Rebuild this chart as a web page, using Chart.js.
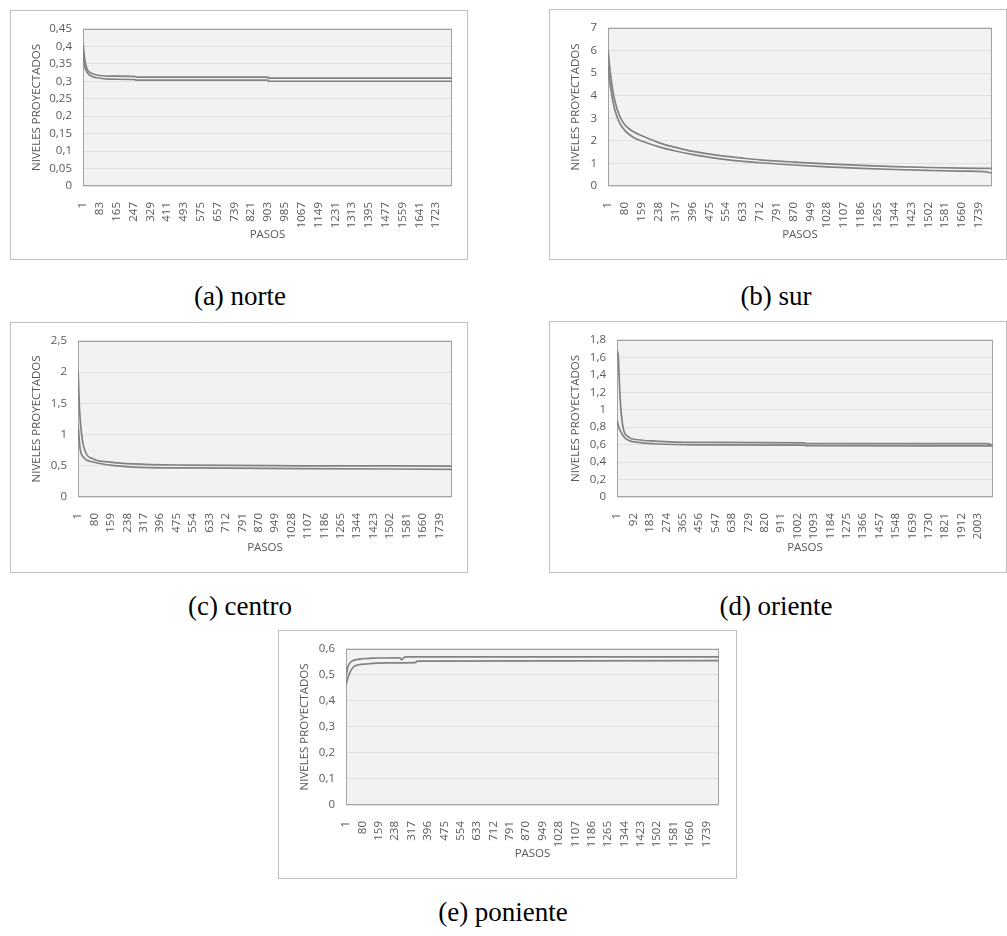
<!DOCTYPE html>
<html lang="es">
<head>
<meta charset="utf-8">
<title>Niveles proyectados por zona</title>
<script src="https://cdn.jsdelivr.net/npm/chart.js@4.4.1/dist/chart.umd.min.js"></script>
<style>
  html, body { margin: 0; padding: 0; background: #ffffff; }
  body { width: 1007px; height: 936px; position: relative; overflow: hidden; }
  .box { position: absolute; border: 1px solid #c0c0c0; background: #ffffff; }
  .box canvas { display: block; }
  .cap { position: absolute; font-family: "Liberation Serif", "DejaVu Serif", serif;
         font-size: 27px; line-height: 30px; color: #000; text-align: center; white-space: nowrap; }
</style>
</head>
<body>

<div class="box" style="left:10px; top:10px;"><canvas id="norte" width="456" height="248"></canvas></div>
<div class="box" style="left:549px; top:9px;"><canvas id="sur" width="456" height="249"></canvas></div>
<div class="cap" style="left:90px; top:281px; width:300px;">(a) norte</div>
<div class="cap" style="left:626px; top:281px; width:300px;">(b) sur</div>

<div class="box" style="left:10px; top:322px;"><canvas id="centro" width="456" height="249"></canvas></div>
<div class="box" style="left:549px; top:321px;"><canvas id="oriente" width="456" height="250"></canvas></div>
<div class="cap" style="left:90px; top:591px; width:300px;">(c) centro</div>
<div class="cap" style="left:626px; top:591px; width:300px;">(d) oriente</div>

<div class="box" style="left:278px; top:630px;"><canvas id="poniente" width="457" height="247"></canvas></div>
<div class="cap" style="left:353px; top:897px; width:300px;">(e) poniente</div>

<script>
// ---- (a) norte ----
const norteCount = 1800;
const norteXTicks = [1, 83, 165, 247, 329, 411, 493, 575, 657, 739, 821, 903, 985, 1067, 1149, 1231, 1313, 1395, 1477, 1559, 1641, 1723];
const norteYTicks = ['0', '0,05', '0,1', '0,15', '0,2', '0,25', '0,3', '0,35', '0,4', '0,45'];
const norteUpperSteps = [1, 10, 20, 35, 70, 130, 250, 262, 900, 906, 1800];
const norteUpper      = [0.405, 0.36, 0.335, 0.325, 0.318, 0.315, 0.314, 0.312, 0.312, 0.309, 0.309];
const norteLowerSteps = [1, 8, 20, 40, 70, 130, 250, 262, 900, 906, 1800];
const norteLower      = [0.38, 0.345, 0.326, 0.315, 0.310, 0.306, 0.305, 0.303, 0.303, 0.300, 0.300];

// ---- (b) sur ----
const surCount = 1800;
const surXTicks = [1, 80, 159, 238, 317, 396, 475, 554, 633, 712, 791, 870, 949, 1028, 1107, 1186, 1265, 1344, 1423, 1502, 1581, 1660, 1739];
const surYTicks = ['0', '1', '2', '3', '4', '5', '6', '7'];
const surUpperSteps = [1, 8, 17, 33, 55, 80, 120, 165, 244, 322, 400, 478, 556, 634, 712, 870, 1028, 1186, 1344, 1502, 1660, 1800];
const surUpper      = [6.0, 5.3, 4.6, 3.75, 3.1, 2.7, 2.4, 2.2, 1.9, 1.7, 1.53, 1.41, 1.31, 1.23, 1.16, 1.06, 0.98, 0.91, 0.86, 0.82, 0.79, 0.78];
const surLowerSteps = [1, 8, 17, 33, 55, 80, 120, 165, 244, 322, 400, 478, 556, 634, 712, 870, 1028, 1186, 1344, 1502, 1660, 1760, 1800];
const surLower      = [5.3, 4.7, 4.1, 3.35, 2.8, 2.45, 2.15, 1.97, 1.72, 1.54, 1.39, 1.27, 1.17, 1.09, 1.03, 0.93, 0.85, 0.78, 0.73, 0.69, 0.66, 0.64, 0.57];

// ---- (c) centro ----
const centroCount = 1800;
const centroXTicks = surXTicks;
const centroYTicks = ['0', '0,5', '1', '1,5', '2', '2,5'];
const centroUpperSteps = [1, 8, 18, 34, 74, 154, 265, 530, 1075, 1800];
const centroUpper      = [2.02, 1.4, 1.0, 0.74, 0.61, 0.56, 0.53, 0.51, 0.50, 0.496];
const centroLowerSteps = [1, 10, 26, 74, 154, 265, 530, 1075, 1800];
const centroLower      = [1.16, 0.79, 0.64, 0.56, 0.51, 0.48, 0.465, 0.455, 0.444];

// ---- (d) oriente ----
const orienteCount = 2086;
const orienteXTicks = [1, 92, 183, 274, 365, 456, 547, 638, 729, 820, 911, 1002, 1093, 1184, 1275, 1366, 1457, 1548, 1639, 1730, 1821, 1912, 2003];
const orienteYTicks = ['0', '0,2', '0,4', '0,6', '0,8', '1', '1,2', '1,4', '1,6', '1,8'];
const orienteUpperSteps = [1, 8, 15, 22, 35, 63, 118, 211, 414, 1040, 1050, 2050, 2086];
const orienteUpper      = [1.68, 1.6, 1.25, 1.01, 0.79, 0.69, 0.656, 0.64, 0.625, 0.62, 0.612, 0.612, 0.595];
const orienteLowerSteps = [1, 10, 22, 35, 63, 118, 211, 414, 1040, 1050, 2086];
const orienteLower      = [0.88, 0.8, 0.75, 0.7, 0.65, 0.625, 0.61, 0.597, 0.594, 0.587, 0.585];

// ---- (e) poniente ----
const ponienteCount = 1800;
const ponienteXTicks = surXTicks;
const ponienteYTicks = ['0', '0,1', '0,2', '0,3', '0,4', '0,5', '0,6'];
const ponienteUpperSteps = [1, 11, 27, 68, 148, 261, 269, 280, 293, 1800];
const ponienteUpper      = [0.50, 0.534, 0.552, 0.561, 0.565, 0.566, 0.558, 0.567, 0.569, 0.569];
const ponienteLowerSteps = [1, 8, 19, 43, 100, 196, 335, 345, 1800];
const ponienteLower      = [0.462, 0.485, 0.509, 0.534, 0.542, 0.546, 0.547, 0.553, 0.555];

// ---- shared drawing ----
const TEXT_COLOR = '#595959';
const LINE_COLOR = '#828282';
const AXIS_FONT = { family: "'Open Sans', 'Liberation Sans', sans-serif", size: 11.5 };

const toNumber = s => parseFloat(s.replace(',', '.'));
const points = (steps, values) => steps.map((s, i) => ({ x: s, y: values[i] }));

// grey plot area with a thin frame, painted under the series
const plotFrame = {
  id: 'plotFrame',
  beforeDraw(chart) {
    const a = chart.chartArea, ctx = chart.ctx;
    ctx.save();
    ctx.fillStyle = '#f2f2f2';
    ctx.fillRect(a.left, a.top, a.right - a.left, a.bottom - a.top);
    ctx.restore();
  },
  beforeDatasetsDraw(chart) {
    const a = chart.chartArea, ctx = chart.ctx;
    ctx.save();
    ctx.strokeStyle = '#a3a3a3';
    ctx.lineWidth = 1;
    ctx.strokeRect(Math.round(a.left) + 0.5, Math.round(a.top) + 0.5,
                   Math.round(a.right - a.left) - 1, Math.round(a.bottom - a.top) - 1);
    ctx.restore();
  }
};

function drawPanel(id, p) {
  const yValues = p.yTicks.map(toNumber);
  new Chart(document.getElementById(id), {
    type: 'line',
    data: {
      datasets: [
        { data: points(p.upperSteps, p.upper) },
        { data: points(p.lowerSteps, p.lower) }
      ]
    },
    options: {
      responsive: false,
      animation: false,
      devicePixelRatio: 1,
      layout: { padding: { left: 0, right: p.right, top: p.top, bottom: 0 } },
      plugins: { legend: { display: false }, tooltip: { enabled: false } },
      elements: {
        point: { radius: 0 },
        line: { borderColor: LINE_COLOR, borderWidth: 1.7, cubicInterpolationMode: 'monotone', fill: false }
      },
      scales: {
        x: {
          type: 'linear',
          min: 0.5,
          max: p.count + 0.5,
          afterBuildTicks: s => { s.ticks = p.xTicks.map(v => ({ value: v })); },
          afterFit: s => { s.height = p.xHeight; },
          grid: { display: false },
          border: { display: false },
          ticks: {
            autoSkip: false, minRotation: 90, maxRotation: 90, padding: 8,
            color: TEXT_COLOR, font: AXIS_FONT,
            callback: v => String(v)
          },
          title: { display: true, text: 'PASOS', color: TEXT_COLOR, font: AXIS_FONT,
                   padding: { top: 0, bottom: 17 } }
        },
        y: {
          min: yValues[0],
          max: yValues[yValues.length - 1],
          afterBuildTicks: s => { s.ticks = yValues.map(v => ({ value: v })); },
          afterFit: s => { s.width = p.yWidth; },
          grid: { color: '#e1e1e1', drawTicks: false },
          border: { display: false },
          ticks: {
            padding: 11, color: TEXT_COLOR, font: AXIS_FONT,
            callback: (v, i) => p.yTicks[i]
          },
          title: { display: true, text: 'NIVELES PROYECTADOS', color: TEXT_COLOR, font: AXIS_FONT,
                   padding: { top: 19, bottom: 0 } }
        }
      }
    },
    plugins: [plotFrame]
  });
}

drawPanel('norte', {
  count: norteCount, xTicks: norteXTicks, yTicks: norteYTicks,
  upperSteps: norteUpperSteps, upper: norteUpper, lowerSteps: norteLowerSteps, lower: norteLower,
  yWidth: 72, xHeight: 73, top: 14, right: 15
});
drawPanel('sur', {
  count: surCount, xTicks: surXTicks, yTicks: surYTicks,
  upperSteps: surUpperSteps, upper: surUpper, lowerSteps: surLowerSteps, lower: surLower,
  yWidth: 58, xHeight: 73, top: 15, right: 14
});
drawPanel('centro', {
  count: centroCount, xTicks: centroXTicks, yTicks: centroYTicks,
  upperSteps: centroUpperSteps, upper: centroUpper, lowerSteps: centroLowerSteps, lower: centroLower,
  yWidth: 67, xHeight: 75, top: 15, right: 15
});
drawPanel('oriente', {
  count: orienteCount, xTicks: orienteXTicks, yTicks: orienteYTicks,
  upperSteps: orienteUpperSteps, upper: orienteUpper, lowerSteps: orienteLowerSteps, lower: orienteLower,
  yWidth: 67, xHeight: 75, top: 15, right: 13
});
drawPanel('poniente', {
  count: ponienteCount, xTicks: ponienteXTicks, yTicks: ponienteYTicks,
  upperSteps: ponienteUpperSteps, upper: ponienteUpper, lowerSteps: ponienteLowerSteps, lower: ponienteLower,
  yWidth: 67, xHeight: 73, top: 15, right: 17
});
</script>
</body>
</html>
